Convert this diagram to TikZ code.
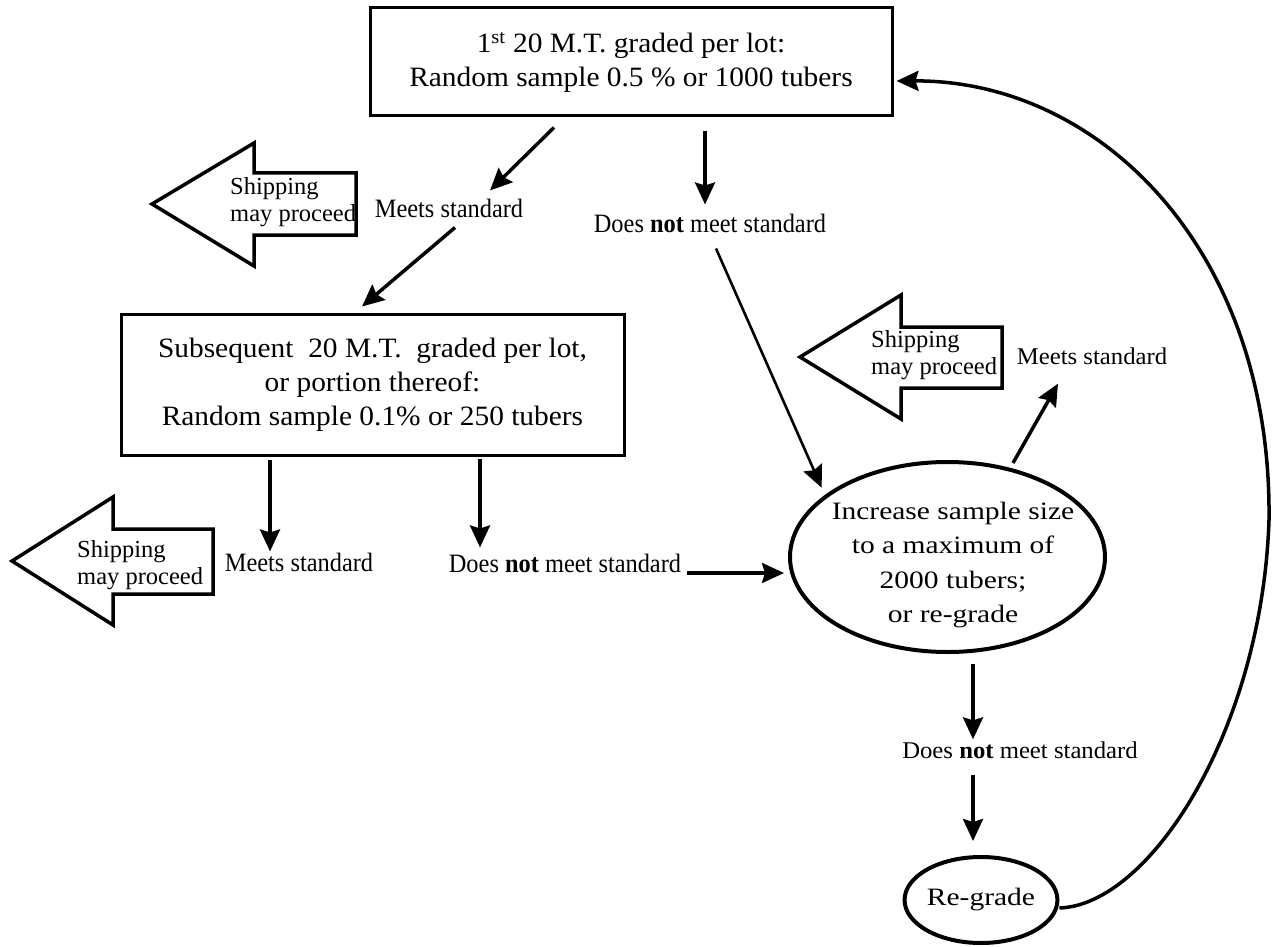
\documentclass[tikz,border=0pt]{standalone}
\usepackage{fontspec}
\setmainfont{Liberation Serif}
\newfontfamily\boxfont[FakeStretch=1.05]{Liberation Serif}
\newfontfamily\leftfont[FakeStretch=0.92]{Liberation Serif}
\newfontfamily\rightfont[FakeStretch=1.03]{Liberation Serif}
\newfontfamily\widefont[FakeStretch=1.18]{Liberation Serif}
\usetikzlibrary{arrows.meta,shapes.geometric}
\begin{document}
\begin{tikzpicture}[x=1pt,y=-1pt,
  arr/.style={-{Stealth[length=22pt,width=20pt,inset=3pt]}, line width=3.5pt},
  thinarr/.style={arr, line width=2.6pt},
  box/.style={draw, line width=3pt, inner sep=0pt, align=center,
    font={\boxfont\fontsize{28}{34}\selectfont}},
  ell/.style={draw, ellipse, line width=4pt, inner sep=0pt},
  elltext/.style={inner sep=0pt, align=center,
    font={\widefont\fontsize{25}{34.3}\selectfont}},
  leftlab/.style={inner sep=0pt, font={\leftfont\fontsize{26.5}{30}\selectfont}},
  rightlab/.style={inner sep=0pt, font={\rightfont\fontsize{24}{28}\selectfont}},
  shipshape/.style={draw, fill=white, line width=3.5pt, line join=miter},
  shiptext/.style={inner sep=0pt, anchor=west, align=left,
    font={\fontsize{24.5}{27.5}\selectfont}}
]
\useasboundingbox (0,0) rectangle (1272,947);

% main boxes
\node[box, minimum width=522pt, minimum height=108pt] (box1) at (631,62)
  {1\textsuperscript{st} 20 M.T. graded per lot:\\Random sample 0.5 \% or 1000 tubers};
\node[box, minimum width=503pt, minimum height=141pt] (box2) at (372.5,384.5)
  {Subsequent\ \ 20 M.T.\ \ graded per lot,\\or portion thereof:\\Random sample 0.1\% or 250 tubers};

% ellipses
\node[ell, minimum width=315pt, minimum height=190pt] (inc) at (947.5,557) {};
\node[elltext] (inctext) at (953,565)
  {Increase sample size\\to a maximum of\\2000 tubers;\\or re-grade};
\node[ell, minimum width=152pt, minimum height=86pt,
  font={\widefont\fontsize{25}{30}\selectfont}] (rg) at (981,900) {Re-grade};

% labels
\node[leftlab] (m1) at (449,208) {Meets standard};
\node[leftlab] (d1) at (710,223) {Does \textbf{not} meet standard};
\node[leftlab] (m2) at (299,562) {Meets standard};
\node[leftlab] (d2) at (565,563) {Does \textbf{not} meet standard};
\node[rightlab] (m3) at (1092,356) {Meets standard};
\node[rightlab] (d3) at (1020,750) {Does \textbf{not} meet standard};

% shipping arrows
\draw[shipshape] (152,204) -- (254,143) -- (254,173) -- (356,173) -- (356,235)
  -- (254,235) -- (254,266) -- cycle;
\node[shiptext] (ship1) at (230,202) {Shipping\\may proceed};
\draw[shipshape] (800,357) -- (901,295) -- (901,327) -- (1002,327) -- (1002,388)
  -- (901,388) -- (901,419) -- cycle;
\node[shiptext] (ship2) at (871,355) {Shipping\\may proceed};
\draw[shipshape] (12,561) -- (113,497) -- (113,529) -- (213,529) -- (213,594)
  -- (113,594) -- (113,625) -- cycle;
\node[shiptext] (ship3) at (77,565) {Shipping\\may proceed};

% connectors
\draw[arr] ([xshift=-77pt,yshift=-10pt]box1.south) -- ([xshift=41pt,yshift=8pt]m1.north);
\draw[arr] ([xshift=74pt,yshift=-14pt]box1.south) -- ([xshift=-5pt,yshift=9pt]d1.north);
\draw[arr] ([xshift=6pt,yshift=-10pt]m1.south) -- ([xshift=-10.5pt,yshift=6pt]box2.north);
\draw[thinarr] ([xshift=6pt,yshift=-16pt]d1.south) -- ([xshift=-8pt,yshift=4pt]inc.151);
\draw[arr] ([xshift=-102.5pt,yshift=-3pt]box2.south) -- ([xshift=-29pt,yshift=1pt]m2.north);
\draw[arr] ([xshift=107.5pt,yshift=-2pt]box2.south) -- ([xshift=-85pt,yshift=6pt]d2.north);
\draw[arr] ([xshift=6pt,yshift=-10pt]d2.east) -- ([xshift=-4pt,yshift=-16pt]inc.west);
\draw[arr] ([xshift=65.5pt,yshift=-3pt]inc.north) -- ([xshift=-34pt,yshift=-19pt]m3.south);
\draw[arr] ([xshift=25.5pt,yshift=-10pt]inc.south) -- ([xshift=-47pt,yshift=2pt]d3.north);
\draw[arr] ([xshift=-47pt,yshift=-16pt]d3.south) -- ([xshift=-8pt,yshift=14pt]rg.north);
\draw[arr] ([yshift=-8pt]rg.east) .. controls (1150,905) and (1262,730) .. (1269,520)
  .. controls (1272,250) and (1100,80) .. ([xshift=3pt,yshift=-19pt]box1.east);
\end{tikzpicture}
\end{document}
